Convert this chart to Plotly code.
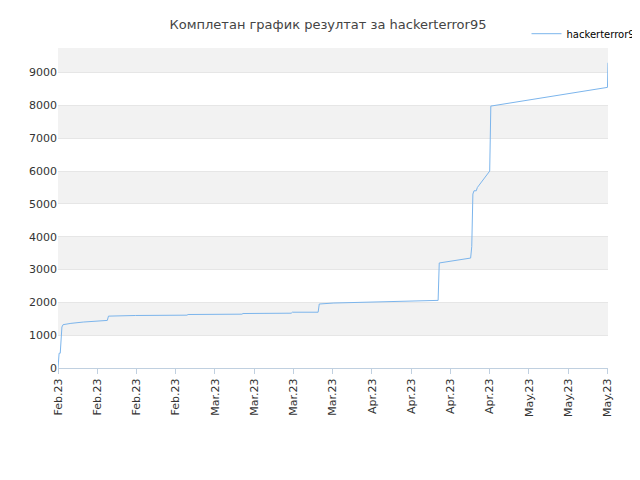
import plotly.graph_objects as go

# days since first tick (Feb.23), score
days = [0, 0.2, 0.4, 0.5, 0.7, 0.9, 1.4, 2.3, 4.5, 6.3, 8.8, 9.0,
        13.6, 13.8, 23.0, 23.2, 32.8, 33.0, 41.6, 41.8, 46.4, 46.6, 49.2,
        54.7, 60.5, 67.8, 68.0, 73.6, 73.8, 74.0, 74.2, 74.6, 74.8, 77.0,
        77.2, 98.0, 98.1]
scores = [0, 450, 450, 900, 1250, 1320, 1340, 1360, 1400, 1430, 1450, 1580,
          1580, 1600, 1610, 1630, 1640, 1660, 1670, 1700, 1700, 1950, 1980,
          2000, 2030, 2060, 3200, 3350, 3700, 5300, 5400, 5400, 5500, 6000,
          7980, 8550, 9300]
tick_vals = [0, 7, 14, 21, 28, 35, 42, 49, 56, 63, 70, 77, 84, 91, 98]
tick_text = ['Feb.23'] * 4 + ['Mar.23'] * 4 + ['Apr.23'] * 4 + ['May.23'] * 3

fig = go.Figure()
fig.add_trace(go.Scatter(x=days, y=scores, mode='lines', name='hackerterror95',
                         line=dict(color='#7cb5ec', width=1)))

# alternating bands
for y0 in [1000, 3000, 5000, 7000, 9000]:
    fig.add_shape(type='rect', xref='paper', x0=0, x1=1, y0=y0,
                  y1=min(y0 + 1000, 9750), fillcolor='#f2f2f2',
                  line_width=0, layer='below')

fig.update_layout(
    width=640, height=480,
    title=dict(text='Комплетан график резултат за hackerterror95', x=0.5,
               y=0.975, font=dict(size=13, color='#444444')),
    font=dict(family='DejaVu Sans', size=11, color='#333333'),
    plot_bgcolor='white', paper_bgcolor='white',
    margin=dict(l=50, r=40, t=40, b=120, autoexpand=False),
    legend=dict(x=1.07, y=1.09, xanchor='right', yanchor='top',
                font=dict(size=10, color='#000000'), bgcolor='rgba(0,0,0,0)'),
    showlegend=True,
)
fig.update_xaxes(range=[0, 98.1], tickvals=tick_vals, ticktext=tick_text,
                 tickangle=-90, showgrid=False, showline=True,
                 linecolor='#c0d0e0', ticks='outside', tickcolor='#c0d0e0',
                 zeroline=False, automargin=False)
fig.update_yaxes(range=[0, 9750], dtick=1000, gridcolor='#e6e6e6',
                 zeroline=False, showline=False, automargin=False)

fig.write_html('out.html')
